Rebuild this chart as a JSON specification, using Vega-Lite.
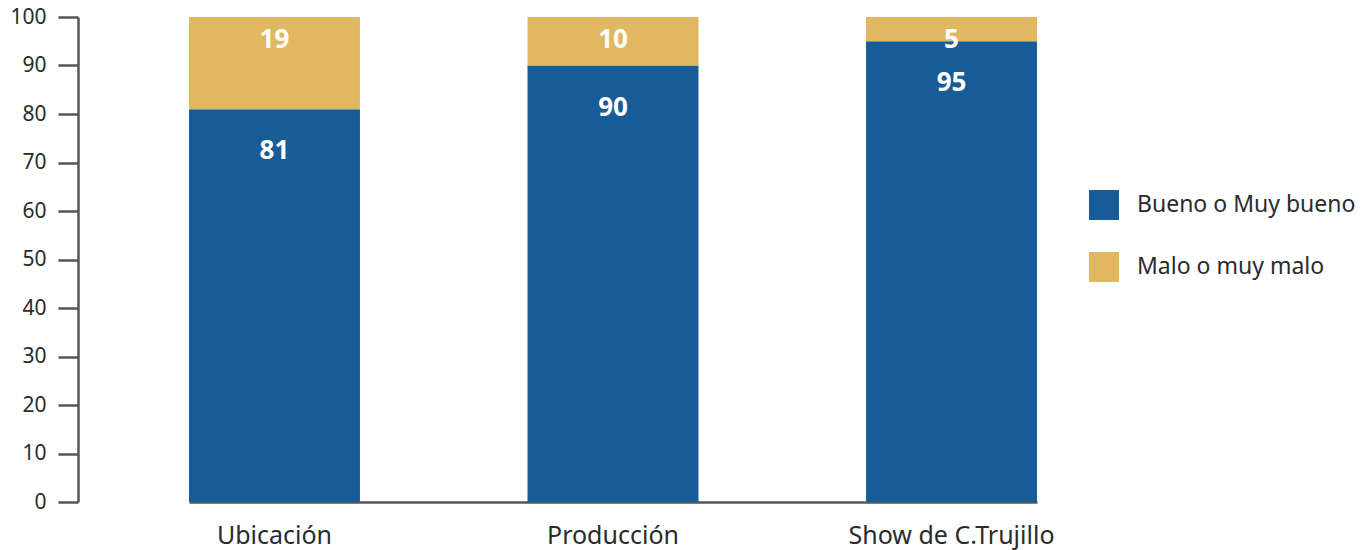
{
  "$schema": "https://vega.github.io/schema/vega-lite/v6.json",
  "autosize": "none",
  "width": 997,
  "height": 485,
  "padding": {"left": 78, "top": 17, "right": 290, "bottom": 48},
  "background": "white",
  "config": {"view": {"stroke": null}, "font": "Noto Sans"},
  "data": {"values": [
    {"aspecto": "Ubicación", "opinion": "Bueno o Muy bueno", "orden": 1, "valor": 81},
    {"aspecto": "Ubicación", "opinion": "Malo o muy malo", "orden": 2, "valor": 19},
    {"aspecto": "Producción", "opinion": "Bueno o Muy bueno", "orden": 1, "valor": 90},
    {"aspecto": "Producción", "opinion": "Malo o muy malo", "orden": 2, "valor": 10},
    {"aspecto": "Show de C.Trujillo", "opinion": "Bueno o Muy bueno", "orden": 1, "valor": 95},
    {"aspecto": "Show de C.Trujillo", "opinion": "Malo o muy malo", "orden": 2, "valor": 5}
  ]},
  "transform": [
    {"stack": "valor", "groupby": ["aspecto"], "sort": [{"field": "orden"}], "as": ["v0", "v1"]}
  ],
  "encoding": {
    "x": {
      "field": "aspecto", "type": "nominal", "sort": ["Ubicación", "Producción", "Show de C.Trujillo"],
      "scale": {"range": [111, 959], "paddingInner": 0.495, "paddingOuter": 0},
      "axis": {"title": null, "labelAngle": 0, "ticks": false, "domain": true, "domainColor": "#555555", "domainWidth": 2.5,
        "labelFontSize": 25, "labelColor": "#2b2b2b", "labelPadding": 21, "labelLimit": 400}
    }
  },
  "layer": [
    {
      "mark": {"type": "bar"},
      "encoding": {
        "y": {"field": "v0", "type": "quantitative",
          "scale": {"domain": [0, 100], "nice": false},
          "axis": {"title": null, "values": [0,10,20,30,40,50,60,70,80,90,100], "grid": false,
            "tickSize": 20, "tickWidth": 2.5, "tickColor": "#555555", "domainColor": "#555555", "domainWidth": 2.5,
            "labelFontSize": 21, "labelColor": "#2b2b2b", "labelPadding": 12}},
        "y2": {"field": "v1"},
        "color": {"field": "opinion", "type": "nominal",
          "scale": {"domain": ["Bueno o Muy bueno", "Malo o muy malo"], "range": ["#185C97", "#E0B862"]},
          "legend": {"title": null, "orient": "none", "legendX": 1011, "legendY": 173,
            "symbolType": "square", "symbolSize": 900, "symbolStrokeWidth": 0, "symbolOpacity": 1,
            "labelFontSize": 23, "labelColor": "#2b2b2b", "rowPadding": 32, "labelOffset": 18, "labelLimit": 300}}
      }
    },
    {
      "transform": [{"filter": "datum.orden == 1"}],
      "mark": {"type": "text", "color": "white", "fontSize": 26, "fontWeight": "bold", "baseline": "middle", "dy": 42},
      "encoding": {
        "y": {"field": "v1", "type": "quantitative"},
        "text": {"field": "valor", "type": "quantitative"}
      }
    },
    {
      "transform": [{"filter": "datum.orden == 2"}],
      "mark": {"type": "text", "color": "white", "fontSize": 26, "fontWeight": "bold", "baseline": "middle", "dy": 23},
      "encoding": {
        "y": {"field": "v1", "type": "quantitative"},
        "text": {"field": "valor", "type": "quantitative"}
      }
    }
  ]
}
